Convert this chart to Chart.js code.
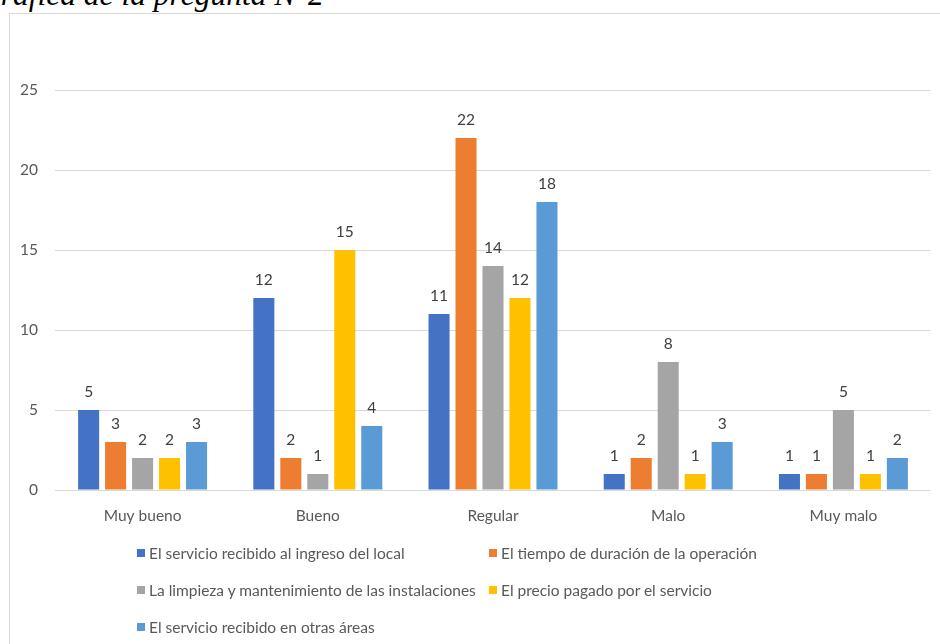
<!DOCTYPE html>
<html>
<head>
<meta charset="utf-8">
<script src="https://cdn.jsdelivr.net/npm/chart.js@4"></script>
<style>
  body { margin: 0; background: #fff; overflow: hidden; }
  #wrap { position: relative; width: 940px; height: 644px; overflow: hidden; }
  #title {
    position: absolute; left: -22px; top: -21.5px;
    font: italic 31.5px "Liberation Serif", "Times New Roman", serif;
    line-height: 31.5px; color: #000; white-space: nowrap;
  }
  #frame {
    position: absolute; left: 9px; top: 13px; width: 1000px; height: 1000px;
    border: 1px solid #d9d9d9; box-sizing: border-box;
  }
  canvas { position: absolute; left: 0; top: 0; }
  #legend {
    position: absolute; left: 137px; top: 534px;
    display: grid; grid-template-columns: 352px auto; grid-auto-rows: 37px;
    font: 15.5px Lato, "Open Sans", sans-serif; color: #595959;
  }
  .item { display: flex; align-items: center; white-space: nowrap; }
  .box { width: 8px; height: 8px; margin-right: 4px; }
</style>
</head>
<body>
<div id="wrap">
  <div id="title">Gráfica de la pregunta N°2</div>
  <div id="frame"></div>
  <canvas id="chart" width="940" height="644"></canvas>
  <div id="legend"></div>
</div>
<script>
const categories = ["Muy bueno", "Bueno", "Regular", "Malo", "Muy malo"];
const seriesNames = [
  "El servicio recibido al ingreso del local",
  "El tiempo de duración de la operación",
  "La limpieza y mantenimiento de las instalaciones",
  "El precio pagado por el servicio",
  "El servicio recibido en otras áreas",
];
const colors = ["#4472C4", "#ED7D31", "#A5A5A5", "#FFC000", "#5B9BD5"];
const ingreso = [5, 12, 11, 1, 1];
const duracion = [3, 2, 22, 2, 1];
const limpieza = [2, 1, 14, 8, 5];
const precio = [2, 15, 12, 1, 1];
const otrasAreas = [3, 4, 18, 3, 2];
const seriesValues = [ingreso, duracion, limpieza, precio, otrasAreas];
const yTicks = [0, 5, 10, 15, 20, 25];

const textColor = "#595959";
const font = { family: "Lato, 'Open Sans', sans-serif", size: 15.5 };

// value labels above each bar
const barLabels = {
  id: "barLabels",
  afterDatasetsDraw(chart) {
    const ctx = chart.ctx;
    ctx.save();
    ctx.font = "15.5px Lato, 'Open Sans', sans-serif";
    ctx.fillStyle = "#404040";
    ctx.textAlign = "center";
    ctx.textBaseline = "alphabetic";
    chart.data.datasets.forEach((ds, i) => {
      chart.getDatasetMeta(i).data.forEach((bar, j) => {
        ctx.fillText(ds.data[j], bar.x, bar.y - 13);
      });
    });
    ctx.restore();
  },
};

new Chart(document.getElementById("chart"), {
  type: "bar",
  data: {
    labels: categories,
    datasets: seriesNames.map((name, i) => ({
      label: name,
      data: seriesValues[i],
      backgroundColor: colors[i],
    })),
  },
  options: {
    responsive: false,
    animation: false,
    layout: { padding: { left: 0, right: 9, top: 90, bottom: 114 } },
    datasets: {
      bar: { categoryPercentage: 0.77, barPercentage: 0.78 },
    },
    scales: {
      x: {
        grid: { display: false },
        border: { display: false },
        ticks: { color: textColor, font: font, padding: 9 },
        afterFit(scale) { scale.height = 40; },
      },
      y: {
        min: 0,
        max: 25,
        afterBuildTicks(scale) { scale.ticks = yTicks.map(v => ({ value: v })); },
        grid: { color: "#d9d9d9", lineWidth: 1, drawTicks: false },
        border: { display: false },
        ticks: { color: textColor, font: font, padding: 17 },
        afterFit(scale) { scale.width = 55; },
      },
    },
    plugins: {
      legend: { display: false },
      tooltip: { enabled: false },
    },
  },
  plugins: [barLabels],
});

const legend = document.getElementById("legend");
seriesNames.forEach((name, i) => {
  const item = document.createElement("div");
  item.className = "item";
  item.innerHTML = '<span class="box" style="background:' + colors[i] + '"></span>' + name;
  legend.appendChild(item);
});
</script>
</body>
</html>
